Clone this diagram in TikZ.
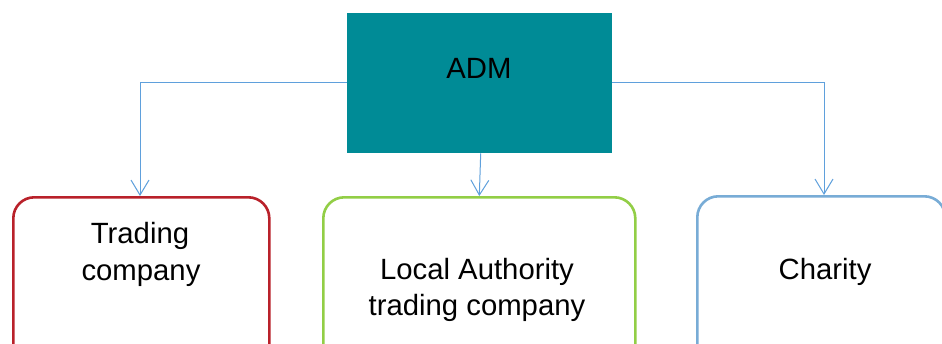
\documentclass[tikz,border=0pt]{standalone}
\usepackage{fontspec}
\setmainfont{Liberation Sans}
\usetikzlibrary{arrows.meta}
\definecolor{admteal}{RGB}{0,139,150}
\definecolor{redbox}{RGB}{185,33,42}
\definecolor{greenbox}{RGB}{146,206,70}
\definecolor{bluebox}{RGB}{120,172,214}
\definecolor{conn}{RGB}{95,160,220}
\tikzset{
  box/.style={draw, line width=2.6pt, rounded corners=21pt, fill=white, inner sep=0pt},
  lbl/.style={anchor=base, inner sep=0pt, font=\fontsize{29.3}{37}\selectfont, align=center},
  conline/.style={draw=conn, line width=1pt, -{Straight Barb[length=15pt,width=18pt]}}
}
\begin{document}
\begin{tikzpicture}[x=1pt,y=-1pt]
\clip (0,0) rectangle (942,343);
\fill[white] (0,0) rectangle (942,343);
% ADM
\node[fill=admteal, minimum width=265pt, minimum height=140pt, inner sep=0pt, anchor=north west] (adm) at (347,13) {};
\node[lbl] (admt) at (479,78) {ADM};
% child boxes
\node[box, draw=redbox, minimum width=256pt, minimum height=170pt, anchor=north west] (trade) at (12,196) {};
\node[box, draw=greenbox, minimum width=312pt, minimum height=170pt, anchor=north west] (la) at (322,196) {};
\node[box, draw=bluebox, minimum width=248pt, minimum height=170pt, anchor=north west] (char) at (696,195) {};
% texts
\node[lbl] (tradet1) at (140,243) {Trading};
\node[lbl] (tradet2) at (141,280) {company};
\node[lbl] (lat1) at (477,279) {Local Authority};
\node[lbl] (lat2) at (477,315) {trading company};
\node[lbl] (chart) at (825,279) {Charity};
% connectors
\coordinate (lc) at (140,82);
\coordinate (rc) at (824,82);
\draw[conline] (adm.west |- lc) -- (lc) -- (lc |- trade.north);
\draw[conline] (adm.south) ++(1,0) -- (la.north);
\draw[conline] (adm.east |- rc) -- (rc) -- (rc |- char.north);
\end{tikzpicture}
\end{document}
